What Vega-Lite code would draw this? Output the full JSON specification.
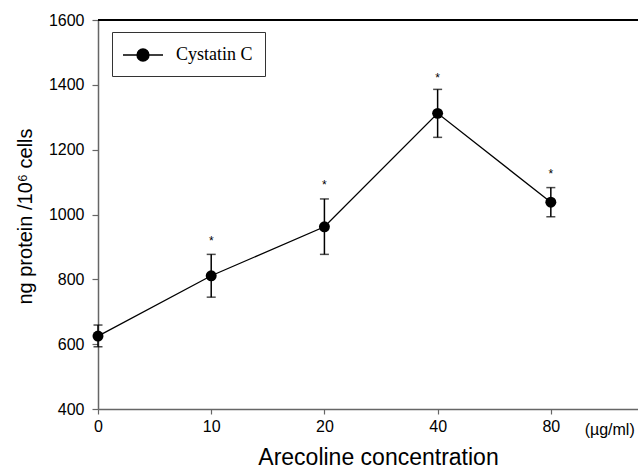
{
  "$schema": "https://vega.github.io/schema/vega-lite/v6.json",
  "autosize": {"type": "none"},
  "padding": {"left": 98, "top": 20, "right": 0, "bottom": 60},
  "width": 540,
  "height": 389,
  "background": "white",
  "config": {"view": {"stroke": null}},
  "data": {
    "values": [
      {"i": 0, "conc": "0", "mean": 625, "lo": 592, "hi": 659, "star": null, "series": "Cystatin C"},
      {"i": 1, "conc": "10", "mean": 811, "lo": 745, "hi": 877, "star": 927, "series": "Cystatin C"},
      {"i": 2, "conc": "20", "mean": 962, "lo": 877, "hi": 1048, "star": 1101, "series": "Cystatin C"},
      {"i": 3, "conc": "40", "mean": 1312, "lo": 1238, "hi": 1386, "star": 1429, "series": "Cystatin C"},
      {"i": 4, "conc": "80", "mean": 1038, "lo": 993, "hi": 1083, "star": 1135, "series": "Cystatin C"}
    ]
  },
  "encoding": {
    "x": {
      "field": "i", "type": "quantitative",
      "scale": {"domain": [0, 4.77], "nice": false, "zero": false},
      "axis": {
        "values": [0, 1, 2, 3, 4],
        "labelExpr": "['0','10','20','40','80'][datum.value]",
        "title": "Arecoline concentration",
        "titleFont": "Liberation Sans", "titleFontSize": 23, "titleFontWeight": "normal", "titleColor": "black",
        "titleX": 280, "titleY": 48, "titleBaseline": "middle",
        "labelFont": "Liberation Sans", "labelFontSize": 16, "labelColor": "black", "labelPadding": 4,
        "domainColor": "#666666", "domainWidth": 1.5, "tickColor": "#666666", "tickWidth": 1.2, "tickSize": 5,
        "grid": false, "labelFlush": false
      }
    },
    "y": {
      "field": "mean", "type": "quantitative",
      "scale": {"domain": [400, 1600], "nice": false, "zero": false},
      "axis": {
        "values": [400, 600, 800, 1000, 1200, 1400, 1600],
        "format": "d",
        "title": "ng protein /10⁶ cells",
        "titleFont": "Liberation Sans", "titleFontSize": 20, "titleFontWeight": "normal", "titleColor": "black",
        "titleX": -73, "titleY": 196, "titleBaseline": "middle", "titleAngle": -90, "titleAlign": "center",
        "labelFont": "Liberation Sans", "labelFontSize": 16, "labelColor": "black", "labelPadding": 8,
        "domainColor": "#666666", "domainWidth": 1.5, "tickColor": "#666666", "tickWidth": 1.2, "tickSize": 6,
        "grid": false, "labelFlush": false
      }
    }
  },
  "layer": [
    {
      "mark": {"type": "rule", "color": "black", "strokeWidth": 1.5},
      "encoding": {"y": {"datum": 1600, "type": "quantitative"}, "x": {"value": 0}, "x2": {"value": 540}}
    },
    {
      "mark": {"type": "line", "color": "black", "strokeWidth": 1.3}
    },
    {
      "mark": {"type": "rule", "color": "black", "strokeWidth": 1.5},
      "encoding": {"y": {"field": "lo"}, "y2": {"field": "hi"}}
    },
    {
      "mark": {"type": "tick", "color": "black", "thickness": 1.5, "size": 9, "orient": "horizontal"},
      "encoding": {"y": {"field": "lo"}}
    },
    {
      "mark": {"type": "tick", "color": "black", "thickness": 1.5, "size": 9, "orient": "horizontal"},
      "encoding": {"y": {"field": "hi"}}
    },
    {
      "mark": {"type": "point", "filled": true, "size": 120, "opacity": 1, "shape": "circle"},
      "encoding": {
        "color": {
          "field": "series", "type": "nominal",
          "scale": {"range": ["black"]},
          "legend": {
            "title": null, "orient": "none", "legendX": 14, "legendY": 12,
            "padding": 12, "strokeColor": "#333333",
            "symbolType": "M-2,0H2M-0.6,0A0.6,0.6,0,1,1,0.6,0A0.6,0.6,0,1,1,-0.6,0Z",
            "symbolSize": 400, "symbolFillColor": "black", "symbolStrokeColor": "black", "symbolStrokeWidth": 1.3,
            "symbolOffset": 8, "labelOffset": 22,
            "labelFont": "Liberation Serif", "labelFontSize": 18, "labelColor": "black"
          }
        }
      }
    },
    {
      "mark": {"type": "text", "text": "*", "font": "Liberation Sans", "fontSize": 12, "baseline": "middle", "dy": 3, "color": "black"},
      "encoding": {"y": {"field": "star"}}
    },
    {
      "data": {"values": [{"i": 4.52, "v": 400, "t": "(µg/ml)"}]},
      "mark": {"type": "text", "font": "Liberation Sans", "fontSize": 16, "baseline": "middle", "dy": 21, "color": "black"},
      "encoding": {"x": {"field": "i", "type": "quantitative"}, "y": {"field": "v", "type": "quantitative"}, "text": {"field": "t"}}
    }
  ]
}
